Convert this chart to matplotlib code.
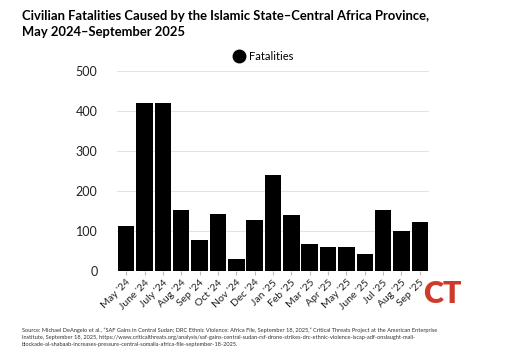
import matplotlib.pyplot as plt
from matplotlib.lines import Line2D

# Données
months = ["May '24", "June '24", "July '24", "Aug '24", "Sep '24", "Oct '24", "Nov '24",
          "Dec '24", "Jan '25", "Feb '25", "Mar '25", "Apr '25", "May '25", "June '25",
          "Jul '25", "Aug '25", "Sep '25"]
fatalities = [112, 421, 420, 153, 77, 143, 29, 128, 239, 139, 67, 60, 60, 42, 153, 99, 122]
y_ticks = [0, 100, 200, 300, 400, 500]

title = "Civilian Fatalities Caused by the Islamic State\u2013Central Africa Province,\nMay 2024\u2013September 2025"
source = ("Source: Michael DeAngelo et al., \u201cSAF Gains in Central Sudan; DRC Ethnic Violence: Africa File, "
          "September 18, 2025,\u201d Critical Threats Project at the American Enterprise\n"
          "Institute, September 18, 2025, https://www.criticalthreats.org/analysis/saf-gains-central-sudan-rsf-drone-"
          "strikes-drc-ethnic-violence-iscap-adf-onslaught-mali-\n"
          "blockade-al-shabaab-increases-pressure-central-somalia-africa-file-september-18-2025.")

plt.rcParams['font.family'] = ['Lato', 'DejaVu Sans']

W, H = 520, 363
fig = plt.figure(figsize=(W / 100, H / 100), dpi=100)
ax = fig.add_axes([117 / W, 1 - 271 / H, (429 - 117) / W, 200 / H])

x = range(len(months))
ax.bar(x, fatalities, width=0.9, color='black', zorder=3)
ax.set_xlim(-0.5, len(months) - 0.5)
ax.set_ylim(0, 500)
ax.set_yticks(y_ticks)
ax.set_yticklabels([str(v) for v in y_ticks], fontsize=9, color='#222222')
ax.set_xticks(list(x))
ax.set_xticklabels(months, rotation=45, ha='right', rotation_mode='anchor', fontsize=7.5, color='#222222')
ax.tick_params(axis='y', length=0, pad=14)
ax.tick_params(axis='x', length=3, color='#bbbbbb', pad=2)
ax.grid(axis='y', color='#e3e3e3', linewidth=0.8, zorder=0)
for s in ax.spines.values():
    s.set_visible(False)

# Titre
fig.text(22 / W, 1 - 10 / H, title, fontsize=9.4, fontweight='bold', va='top', ha='left',
         linespacing=1.35, color='black')

# Légende
handle = Line2D([], [], marker='o', color='black', linestyle='None', markersize=9)
fig.legend([handle], ['Fatalities'], loc='center', bbox_to_anchor=(263 / W, 1 - 56 / H),
           frameon=False, fontsize=8, handletextpad=0.4, borderpad=0, handlelength=1)

# Logo CT
fig.text(442 / W, 1 - 294 / H, "CT", fontsize=22, fontweight='heavy', color='#d03a2b',
         ha='center', va='center')

# Source
fig.text(22 / W, 1 - 328 / H, source, fontsize=4.1, color='#333333', va='top', ha='left', linespacing=1.4)

fig.savefig('out.png', dpi=100)
